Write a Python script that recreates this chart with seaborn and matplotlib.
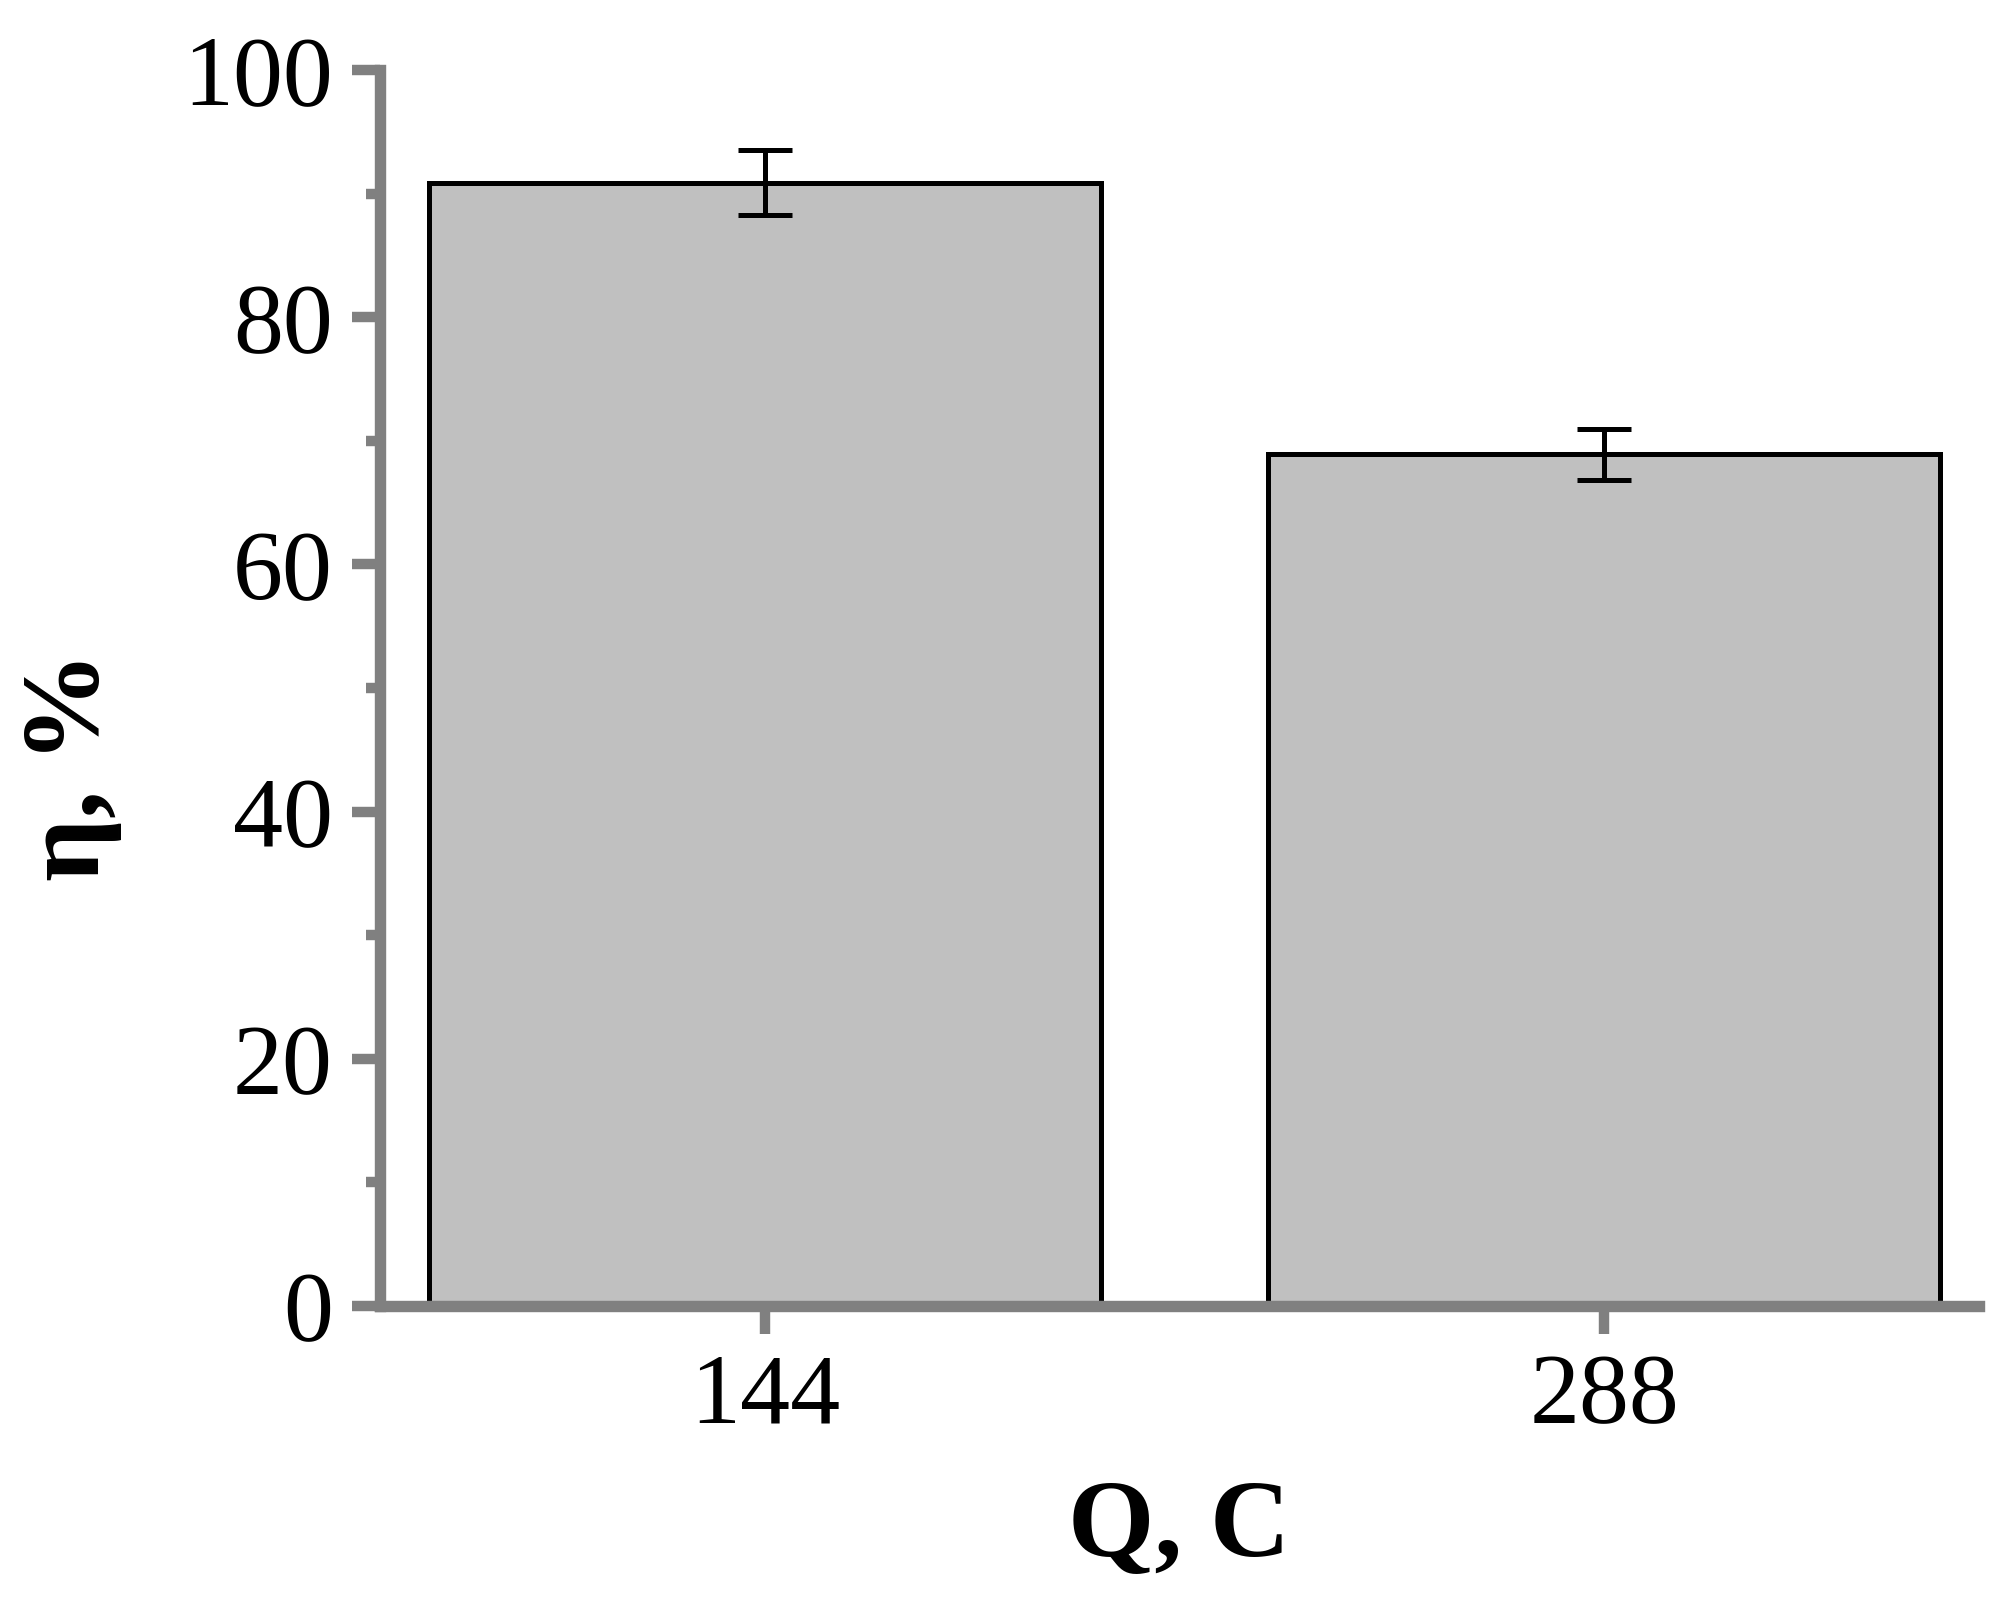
import matplotlib
matplotlib.use("Agg")
import matplotlib.pyplot as plt
from matplotlib.ticker import MultipleLocator
import pandas as pd
import seaborn as sns

charges = ["144", "288"]
efficiency = [90.9, 68.9]
errors = [2.6, 2.05]

df = pd.DataFrame({"Q": charges, "eta": efficiency})

sns.set_style("white")
plt.rcParams["font.family"] = ["Liberation Serif", "DejaVu Serif"]
plt.rcParams["text.color"] = "black"
plt.rcParams["axes.labelcolor"] = "black"

fig = plt.figure(figsize=(20.08, 16.07), dpi=100)
ax = fig.add_axes([0.1892, 0.1873, 0.9856 - 0.1892, 0.9564 - 0.1873])

sns.barplot(data=df, x="Q", y="eta", color="#c0c0c0", saturation=1,
            edgecolor="black", linewidth=3.6, width=0.8, errorbar=None, ax=ax)

xs = [p.get_x() + p.get_width() / 2 for p in ax.patches]
ax.errorbar(xs, efficiency, yerr=errors, fmt="none", ecolor="black",
            elinewidth=3.6, capsize=19.5, capthick=3.6, zorder=5)

ax.set_ylim(0, 100)
ax.set_xlim(-0.459, 1.447)
ax.yaxis.set_major_locator(MultipleLocator(20))
ax.yaxis.set_minor_locator(MultipleLocator(10))

for s in ["top", "right"]:
    ax.spines[s].set_visible(False)
for s in ["left", "bottom"]:
    ax.spines[s].set_color("#808080")
    ax.spines[s].set_linewidth(8.2)

ax.tick_params(axis="y", which="major", direction="out", length=20, width=7.5,
               color="#808080", labelsize=72, pad=14, left=True, labelcolor="black")
ax.tick_params(axis="y", which="minor", direction="out", length=10, width=7.5,
               color="#808080", left=True)
ax.tick_params(axis="x", which="major", direction="out", length=20, width=7.5,
               color="#808080", labelsize=72, pad=14, bottom=True, labelcolor="black")

ax.set_xlabel("Q, C", fontsize=80, fontweight="bold", labelpad=26, color="black")
ax.set_ylabel("η, %", fontsize=80, fontweight="bold", color="black")
ax.yaxis.set_label_coords(-0.161, 0.437)

fig.savefig("out.png", dpi=100, facecolor="white")
